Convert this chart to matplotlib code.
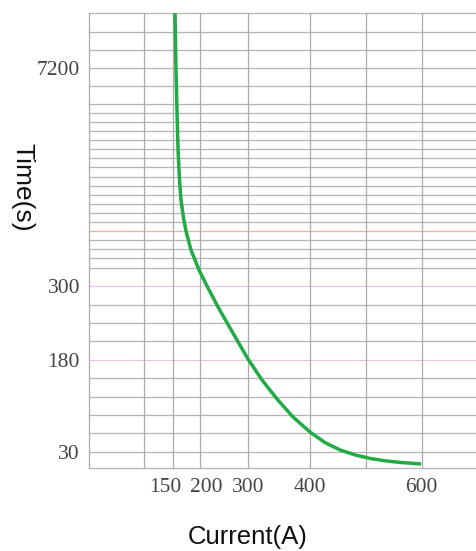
import numpy as np
import matplotlib
matplotlib.use("Agg")
import matplotlib.pyplot as plt

# Trip curve (current in A, time in s)
current_a = [162.2, 162.8, 163.4, 164.6, 165.9, 167.7, 169.5, 172.6, 175.6,
             181.7, 191.5, 202.4, 228.6, 257.1, 300, 322.6, 346.8, 372.6,
             400, 427, 454, 481, 508, 535, 562, 600]
time_s = [10000, 8625, 7170, 5870, 4605, 3655, 3020, 2450, 2040,
          1440, 806, 300, 266, 232, 181.6, 147.4, 116.4, 87.1,
          62.6, 45.3, 33.4, 28.2, 26, 24.5, 23.5, 22.5]

x_ticks = [150, 200, 300, 400, 600]
y_ticks = [30, 180, 300, 7200]

# the paper scale is uneven: anchor values -> pixel positions on the sheet
x_anchor_val = [0, 150, 200, 300, 400, 600, 700]
x_anchor_pos = [89, 165, 206, 248, 310, 421, 476]
y_anchor_val = [20, 30, 180, 300, 7200, 10000]
y_anchor_pos = [0, 16, 108, 182, 400, 455]


def fx(v):
    return np.interp(v, x_anchor_val, x_anchor_pos)


def ix(p):
    return np.interp(p, x_anchor_pos, x_anchor_val)


def fy(v):
    return np.interp(v, y_anchor_val, y_anchor_pos)


def iy(p):
    return np.interp(p, y_anchor_pos, y_anchor_val)


W, H = 476, 551
fig = plt.figure(figsize=(W / 100, H / 100), dpi=100)
ax = fig.add_axes([89 / W, (H - 468) / H, (W - 89) / W, 455 / H])

ax.set_xscale("function", functions=(fx, ix))
ax.set_yscale("function", functions=(fy, iy))
ax.set_xlim(0, 700)
ax.set_ylim(20, 10000)

# graph-paper grid (pixel rows / columns of the sheet)
h_rows = [13, 32, 50, 68, 86, 104, 113, 122, 131, 140, 149, 158, 167, 177,
          186, 195, 204, 213, 222, 240, 249, 258, 268, 305, 323, 341, 378,
          397, 415, 433, 452, 468]
v_cols = [89, 144, 173, 200, 248, 310, 366, 422]
for r in h_rows:
    ax.plot([0, 1], [(468 - r) / 455] * 2, transform=ax.transAxes,
            color="#b4b4b4", lw=0.9, zorder=1, clip_on=False)
for r, c in [(231, "#e8b0a8"), (286, "#e6c6e6"), (360, "#e6c6e6")]:
    ax.plot([0, 1], [(468 - r) / 455] * 2, transform=ax.transAxes,
            color=c, lw=0.9, zorder=1, clip_on=False)
for c in v_cols:
    ax.plot([(c - 89) / 387] * 2, [0, 1], transform=ax.transAxes,
            color="#aaaaaa", lw=0.9, zorder=1, clip_on=False)

ax.plot(current_a, time_s, color="#22aa44", lw=2.5, zorder=3,
        solid_capstyle="butt", solid_joinstyle="round")

for s in ax.spines.values():
    s.set_visible(False)

ax.set_xticks(x_ticks)
ax.set_xticklabels([str(v) for v in x_ticks], fontsize=15.5,
                   fontfamily="Liberation Serif", color="#444444")
ax.set_yticks(y_ticks)
ax.set_yticklabels([str(v) for v in y_ticks], fontsize=15.5,
                   fontfamily="Liberation Serif", color="#444444")
ax.minorticks_off()
ax.tick_params(length=0)
ax.tick_params(axis="x", pad=7)
ax.tick_params(axis="y", pad=6.5)

fig.text(248 / W, 1 - 537 / H, "Current(A)", ha="center", va="center",
         fontsize=18.5, family="Liberation Sans", color="#111111")
fig.text(22 / W, 1 - 187 / H, "Time(s)", ha="center", va="center",
         rotation=270, fontsize=19, family="Liberation Sans", color="#111111")

fig.savefig("out.png", dpi=100)
